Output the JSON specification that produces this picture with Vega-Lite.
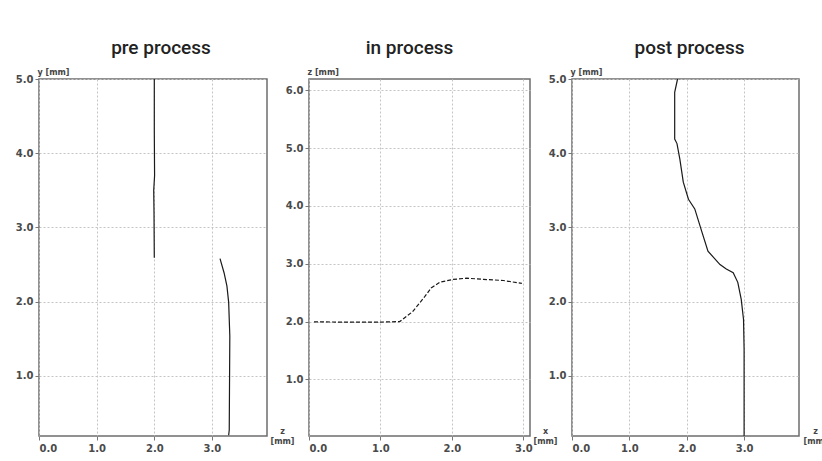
{
  "$schema": "https://vega.github.io/schema/vega-lite/v6.json",
  "background": "white",
  "padding": {"left": 14, "top": 38, "right": 0, "bottom": 0},
  "spacing": 42,
  "bounds": "flush",
  "config": {
    "view": {"stroke": "#6e6e6e", "strokeWidth": 1.5},
    "axis": {
      "domain": false,
      "labelFont": "DejaVu Sans", "labelFontWeight": "bold", "labelFontSize": 10, "labelColor": "#4a4a4a",
      "tickColor": "#777", "tickSize": 4, "labelPadding": 2,
      "gridColor": "#c4c4c4", "gridDash": [2, 2], "gridWidth": 1,
      "titleFont": "DejaVu Sans", "titleFontSize": 8, "titleFontWeight": "bold", "titleColor": "#444"
    },
    "axisX": {"labelPadding": 3},
    "title": {"font": "Roboto", "fontSize": 19, "fontWeight": 500, "color": "#222", "baseline": "alphabetic", "offset": 10, "anchor": "middle", "frame": "group"}
  },
  "hconcat": [
    {
      "width": 228, "height": 357,
      "title": {"text": "pre process", "dx": 8},
      "data": {"values": [
        {"seg": "a", "x": 2.0, "y": 5.0},
        {"seg": "a", "x": 2.0, "y": 4.3},
        {"seg": "a", "x": 2.005, "y": 3.7},
        {"seg": "a", "x": 1.99, "y": 3.5},
        {"seg": "a", "x": 1.995, "y": 3.2},
        {"seg": "a", "x": 2.0, "y": 2.59},
        {"seg": "b", "x": 3.14, "y": 2.58},
        {"seg": "b", "x": 3.21, "y": 2.39},
        {"seg": "b", "x": 3.26, "y": 2.21},
        {"seg": "b", "x": 3.29, "y": 1.99},
        {"seg": "b", "x": 3.31, "y": 1.54},
        {"seg": "b", "x": 3.30, "y": 0.27},
        {"seg": "b", "x": 3.29, "y": 0.2}
      ]},
      "mark": {"type": "line", "color": "#1a1a1a", "strokeWidth": 1.2},
      "encoding": {
        "x": {"field": "x", "type": "quantitative",
          "scale": {"domain": [0, 3.955], "nice": false, "zero": false},
          "axis": {"values": [0, 1, 2, 3], "format": ".1f", "title": ["z", "[mm]"], "titleAngle": 0, "titleX": 243, "titleY": -9, "titleAlign": "center", "titleBaseline": "top", "titleLineHeight": 10}},
        "y": {"field": "y", "type": "quantitative",
          "scale": {"domain": [0.19, 5], "nice": false, "zero": false},
          "axis": {"values": [1, 2, 3, 4, 5], "format": ".1f", "title": "y [mm]", "titleAngle": 0, "titleX": -2, "titleY": -5, "titleAlign": "left", "titleBaseline": "alphabetic"}},
        "detail": {"field": "seg"},
        "order": {"field": "y"}
      }
    },
    {
      "width": 221, "height": 357,
      "title": {"text": "in process", "dx": -10},
      "data": {"values": [
        {"x": 0.07, "y": 1.995},
        {"x": 0.5, "y": 1.99},
        {"x": 1.0, "y": 1.99},
        {"x": 1.27, "y": 2.0},
        {"x": 1.45, "y": 2.17},
        {"x": 1.62, "y": 2.43},
        {"x": 1.71, "y": 2.58},
        {"x": 1.83, "y": 2.68},
        {"x": 2.02, "y": 2.73},
        {"x": 2.21, "y": 2.75},
        {"x": 2.44, "y": 2.73},
        {"x": 2.72, "y": 2.71},
        {"x": 2.98, "y": 2.66}
      ]},
      "mark": {"type": "line", "color": "#1a1a1a", "strokeWidth": 1.2, "strokeDash": [4, 2]},
      "encoding": {
        "x": {"field": "x", "type": "quantitative",
          "scale": {"domain": [0, 3.094], "nice": false, "zero": false},
          "axis": {"values": [0, 1, 2, 3], "format": ".1f", "title": ["x", "[mm]"], "titleAngle": 0, "titleX": 236, "titleY": -9, "titleAlign": "center", "titleBaseline": "top", "titleLineHeight": 10}},
        "y": {"field": "y", "type": "quantitative",
          "scale": {"domain": [0.02, 6.196], "nice": false, "zero": false},
          "axis": {"values": [1, 2, 3, 4, 5, 6], "format": ".1f", "title": "z [mm]", "titleAngle": 0, "titleX": -2, "titleY": -5, "titleAlign": "left", "titleBaseline": "alphabetic"}}
      }
    },
    {
      "width": 227, "height": 357,
      "title": {"text": "post process", "dx": 4},
      "data": {"values": [
        {"x": 1.84, "y": 5.0},
        {"x": 1.79, "y": 4.82},
        {"x": 1.79, "y": 4.19},
        {"x": 1.83, "y": 4.13},
        {"x": 1.88, "y": 3.92},
        {"x": 1.94, "y": 3.61},
        {"x": 2.03, "y": 3.38},
        {"x": 2.14, "y": 3.25},
        {"x": 2.26, "y": 2.95},
        {"x": 2.37, "y": 2.68},
        {"x": 2.58, "y": 2.5},
        {"x": 2.69, "y": 2.44},
        {"x": 2.81, "y": 2.39},
        {"x": 2.89, "y": 2.26},
        {"x": 2.95, "y": 2.03},
        {"x": 2.99, "y": 1.76},
        {"x": 3.0, "y": 1.36},
        {"x": 3.0, "y": 0.19}
      ]},
      "mark": {"type": "line", "color": "#1a1a1a", "strokeWidth": 1.2},
      "encoding": {
        "x": {"field": "x", "type": "quantitative",
          "scale": {"domain": [0, 3.957], "nice": false, "zero": false},
          "axis": {"values": [0, 1, 2, 3], "format": ".1f", "title": ["z", "[mm]"], "titleAngle": 0, "titleX": 243, "titleY": -9, "titleAlign": "center", "titleBaseline": "top", "titleLineHeight": 10}},
        "y": {"field": "y", "type": "quantitative",
          "scale": {"domain": [0.19, 5], "nice": false, "zero": false},
          "axis": {"values": [1, 2, 3, 4, 5], "format": ".1f", "title": "y [mm]", "titleAngle": 0, "titleX": -2, "titleY": -5, "titleAlign": "left", "titleBaseline": "alphabetic"}},
        "order": {"field": "y"}
      }
    }
  ]
}
